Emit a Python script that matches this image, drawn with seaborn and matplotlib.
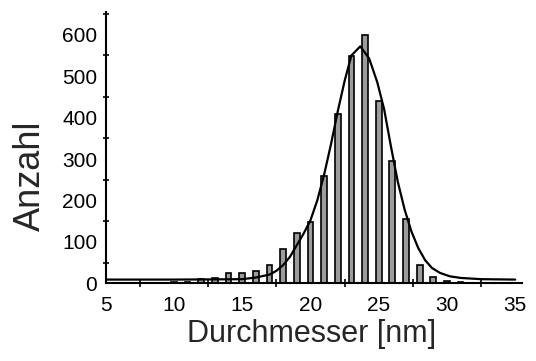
import numpy as np
import pandas as pd
import matplotlib
matplotlib.use("Agg")
import matplotlib.pyplot as plt
import seaborn as sns
from matplotlib.ticker import MultipleLocator

# Histogram data
diameters = [10, 11, 12, 13, 14, 15, 16, 17, 18, 19, 20, 21, 22, 23, 24, 25, 26, 27, 28, 29, 30, 31]
counts = [3, 3, 10, 14, 25, 24, 30, 44, 82, 121, 148, 259, 409, 548, 600, 439, 295, 156, 44, 15, 6, 2]

# Fit curve
fit_x = [5, 10, 13, 15, 16, 17, 17.5, 18, 18.5, 19, 19.5, 20, 20.5, 21, 21.5, 22, 22.5, 23,
         23.65, 24.3, 24.9, 25.4, 25.9, 26.4, 26.9, 27.4, 27.9, 28.4, 28.9, 29.5, 30.2, 31,
         32.5, 35]
fit_y = [9, 9, 9.5, 10, 14, 21, 30, 44, 64, 92, 120, 152, 200, 262, 335, 415, 488, 550,
         572, 543, 485, 420, 330, 245, 178, 125, 85, 56, 37, 25, 17, 13, 10, 9]

x_ticks = [5, 10, 15, 20, 25, 30, 35]
y_ticks = [0, 100, 200, 300, 400, 500, 600]

sns.set_style("white")
plt.rcParams['font.family'] = ['Liberation Sans', 'DejaVu Sans']

fig = plt.figure(figsize=(5.36, 3.61), dpi=100)
ax = fig.add_axes([0.1972, 0.2152, 0.7767, 0.7516])

bars = pd.DataFrame({"d": diameters, "n": counts})
fit = pd.DataFrame({"x": fit_x, "y": fit_y})

sns.barplot(data=bars, x="d", y="n", native_scale=True, width=0.42,
            color="#9c9c9c", saturation=1, edgecolor="black", linewidth=1.2,
            ax=ax, errorbar=None)
sns.lineplot(data=fit, x="x", y="y", color="black", linewidth=1.6, ax=ax,
             sort=False, estimator=None)

ax.set_xlim(5, 35.5)
ax.set_ylim(0, 655)
ax.set_xticks(x_ticks)
ax.set_yticks(y_ticks)
ax.xaxis.set_minor_locator(MultipleLocator(2.5))
ax.yaxis.set_minor_locator(MultipleLocator(50))

for s in ["top", "right"]:
    ax.spines[s].set_visible(False)
for s in ["left", "bottom"]:
    ax.spines[s].set_linewidth(1.5)
    ax.spines[s].set_color("black")

ax.tick_params(axis="y", which="major", direction="out", length=4, width=1.4,
               labelsize=15, pad=2, colors="black")
ax.tick_params(axis="y", which="minor", direction="inout", length=5, width=1.4,
               left=True)
ax.tick_params(axis="x", which="major", direction="in", length=0, width=1.4,
               labelsize=15, pad=9, colors="black")
ax.tick_params(axis="x", which="minor", direction="inout", length=6, width=1.4,
               bottom=True)

ax.set_xlabel("Durchmesser [nm]", fontsize=22)
ax.set_ylabel("Anzahl", fontsize=26)
ax.xaxis.set_label_coords(0.4956, -0.187)
ax.xaxis.label.set_va("center")
ax.yaxis.set_label_coords(-0.182, 0.395)
ax.yaxis.label.set_va("center")

fig.savefig("out.png", dpi=100)
